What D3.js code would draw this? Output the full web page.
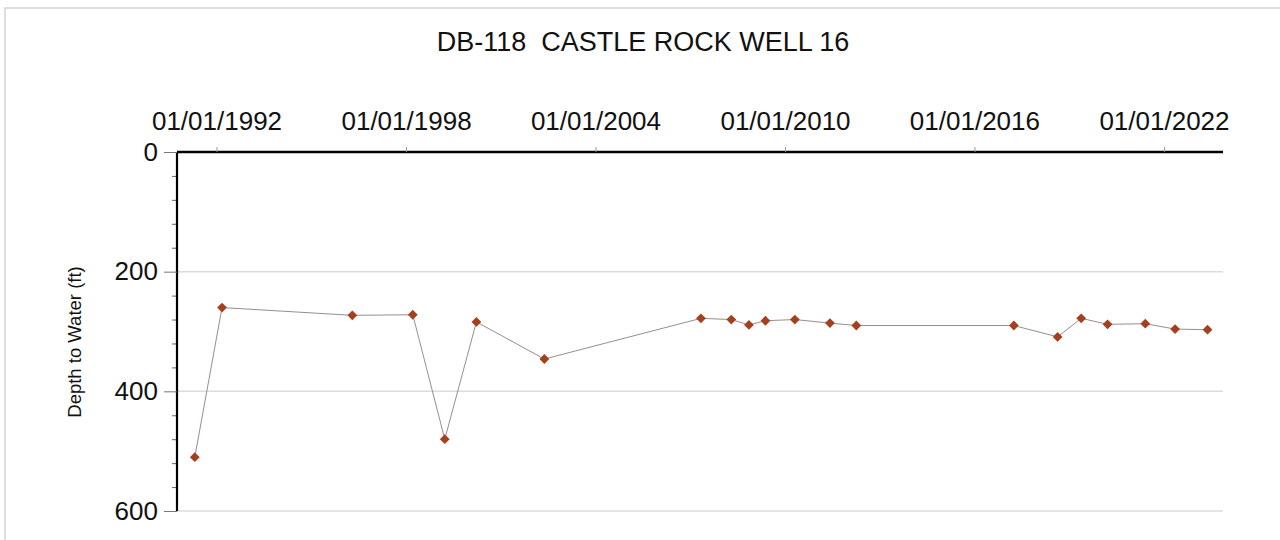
<!DOCTYPE html>
<html>
<head>
<meta charset="utf-8">
<script src="https://cdn.jsdelivr.net/npm/d3@7"></script>
<style>
  html, body { margin: 0; padding: 0; background: #fff; }
  svg { display: block; font-family: "Liberation Sans", Arial, sans-serif; }
</style>
</head>
<body>
<svg id="chart" width="1280" height="540"></svg>
<script>
// ---- data ----
const chartTitle = "DB-118  CASTLE ROCK WELL 16";
const yLabel = "Depth to Water (ft)";
const dates = [
  "1991-04-25", "1992-03-05", "1996-04-20", "1998-03-20", "1999-03-25",
  "2000-03-25", "2002-05-20", "2007-05-05", "2008-04-20", "2008-11-10",
  "2009-05-20", "2010-04-25", "2011-06-05", "2012-04-05", "2017-04-01",
  "2018-08-20", "2019-05-20", "2020-03-20", "2021-05-30", "2022-05-10",
  "2023-05-20"
];
const depths = [
  510, 260, 273, 272, 480,
  284, 346, 278, 280, 289,
  282, 280, 286, 290, 290,
  309, 278, 288, 287, 296,
  297
];
const xTickDates = ["1992-01-01", "1998-01-01", "2004-01-01", "2010-01-01", "2016-01-01", "2022-01-01"];
const yMajorTicks = [0, 200, 400, 600];
const xDomain = ["1990-10-01", "2023-11-15"];
const yDomain = [0, 600];

// ---- drawing ----
(function () {
const parse = d3.utcParse("%Y-%m-%d");
const fmt = d3.utcFormat("%m/%d/%Y");
const svg = d3.select("#chart");
const FONT = "Liberation Sans, Arial, sans-serif";

const pL = 177, pR = 1223, pT = 152, pB = 511;

const x = d3.scaleUtc().domain(xDomain.map(parse)).range([pL, pR]);
const y = d3.scaleLinear().domain(yDomain).range([pT, pB]);

// frame
svg.append("rect").attr("x", 5).attr("y", 8).attr("width", 1290).attr("height", 560)
  .attr("fill", "none").attr("stroke", "#d4d4d4").attr("stroke-width", 1.5);

// title
svg.append("text").attr("x", 643).attr("y", 51).attr("text-anchor", "middle")
  .attr("xml:space", "preserve").style("white-space", "pre")
  .attr("font-size", 27).attr("font-family", FONT).attr("fill", "#111").text(chartTitle);

// gridlines
svg.append("g").selectAll("line").data(yMajorTicks.filter(d => d > 0)).join("line")
  .attr("x1", pL).attr("x2", pR)
  .attr("y1", d => y(d)).attr("y2", d => y(d))
  .attr("stroke", "#dcdcdc").attr("stroke-width", 1.5);

// y axis minor ticks
const yMinor = d3.range(yDomain[0], yDomain[1] + 1, 40).filter(v => !yMajorTicks.includes(v));
svg.append("g").attr("transform", `translate(${pL},0)`)
  .call(d3.axisLeft(y).tickValues(yMinor).tickSize(5).tickFormat(""))
  .call(g => g.select(".domain").remove())
  .call(g => g.selectAll(".tick line").attr("stroke", "#666"));

// y axis major
const yAxis = svg.append("g").attr("transform", `translate(${pL},0)`)
  .call(d3.axisLeft(y).tickValues(yMajorTicks).tickSize(13).tickPadding(6).tickFormat(d3.format("d")));
yAxis.attr("font-size", 26).attr("font-family", FONT);
yAxis.select(".domain").attr("stroke", "#000").attr("stroke-width", 2.2).attr("d", `M0,${pT}V${pB}`);
yAxis.selectAll(".tick line").attr("stroke", "#777").attr("stroke-width", 1);
yAxis.selectAll(".tick text").attr("fill", "#111");

// x axis (top)
const xAxis = svg.append("g").attr("transform", `translate(0,${pT})`)
  .call(d3.axisTop(x).tickValues(xTickDates.map(parse)).tickSize(5).tickPadding(17).tickFormat(fmt));
xAxis.attr("font-size", 26).attr("font-family", FONT);
xAxis.select(".domain").attr("stroke", "#000").attr("stroke-width", 2.6).attr("d", `M${pL},0H${pR}`);
xAxis.selectAll(".tick line").attr("stroke", "#999");
xAxis.selectAll(".tick text").attr("fill", "#111");

// y label
svg.append("text").attr("transform", `translate(81,342) rotate(-90)`)
  .attr("text-anchor", "middle").attr("font-size", 18.5).attr("font-family", FONT)
  .attr("fill", "#111").text(yLabel);

// series
const pts = dates.map((d, i) => ({ date: parse(d), depth: depths[i] }));
svg.append("path").datum(pts)
  .attr("fill", "none").attr("stroke", "#9c8c8c").attr("stroke-width", 1)
  .attr("d", d3.line().x(d => x(d.date)).y(d => y(d.depth)));

svg.append("g").selectAll("path").data(pts).join("path")
  .attr("transform", d => `translate(${x(d.date)},${y(d.depth)}) rotate(45)`)
  .attr("d", d3.symbol(d3.symbolSquare, 48))
  .attr("fill", "#a5401f");
})();
</script>
</body>
</html>
